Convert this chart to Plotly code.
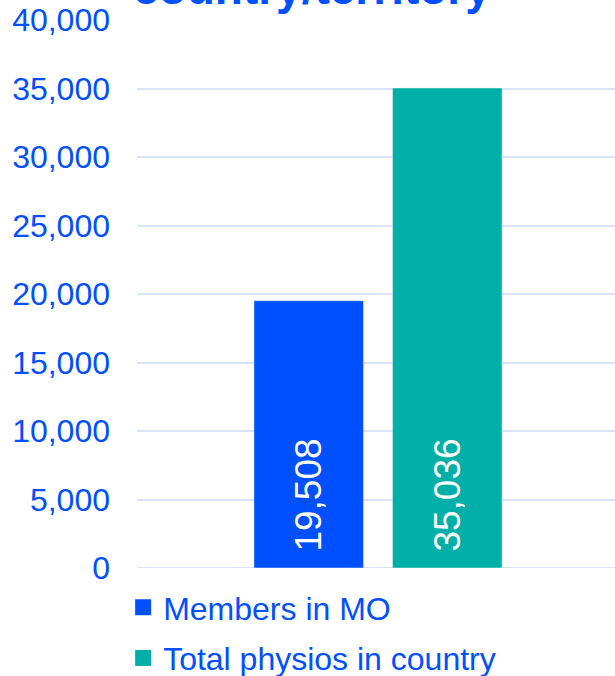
import plotly.graph_objects as go

categories = [""]
series_names = ["Members in MO", "Total physios in country"]
series_values = [[19508], [35036]]
colors = ["#0050FF", "#00B0A8"]
tick_vals = [0, 5000, 10000, 15000, 20000, 25000, 30000, 35000, 40000]
tick_text = ["0", "5,000", "10,000", "15,000", "20,000", "25,000", "30,000", "35,000", "40,000"]

fig = go.Figure()
for i, (name, vals, col) in enumerate(zip(series_names, series_values, colors)):
    fig.add_trace(go.Bar(
        x=categories, y=vals, name=name, marker_color=col, showlegend=False,
        texttemplate="\u00a0\u200a%{y:,}", textposition="inside", insidetextanchor="start",
        textangle=-90, textfont=dict(color="white", size=37, family="Arial"),
        cliponaxis=False, legendgroup=f"g{i}",
    ))
    # legend entry with a larger square swatch
    fig.add_trace(go.Scatter(
        x=[None], y=[None], mode="markers", name=name, legendgroup=f"g{i}",
        marker=dict(symbol="square", size=17, color=col), showlegend=True,
    ))

fig.update_layout(
    width=615, height=676,
    margin=dict(l=137, r=0, t=20, b=108, autoexpand=False),
    paper_bgcolor="white", plot_bgcolor="white",
    barmode="group", bargap=0.42, bargroupgap=0.21,
    font=dict(family="Arial", color="#0050FF", size=32),
    showlegend=True,
    legend=dict(orientation="v", x=-0.029, xanchor="left", y=-0.022, yanchor="top",
                font=dict(size=32, color="#0050FF", family="Arial"),
                tracegroupgap=6, itemsizing="trace", itemwidth=30,
                bgcolor="rgba(0,0,0,0)"),
    xaxis=dict(showticklabels=False, showgrid=False, zeroline=False, showline=False,
               range=[-0.5042, 0.4958]),
    yaxis=dict(range=[0, 40000], tickvals=tick_vals, ticktext=tick_text,
               showgrid=True, gridcolor="#DAE2FA", gridwidth=2, zeroline=False,
               showline=False, ticks="", ticklabelstandoff=26,
               tickfont=dict(size=32, color="#0050FF", family="Arial")),
)
fig.add_hline(y=0, line_color="#DAE2FA", line_width=2, layer="below")
fig.add_annotation(text="<b>country/territory</b>", xref="paper", yref="paper",
                   x=0.367, y=1 + 4 / 548, xanchor="center", yanchor="bottom",
                   showarrow=False, font=dict(size=46, color="#0050FF", family="Arial"))

fig.write_html("out.html")
